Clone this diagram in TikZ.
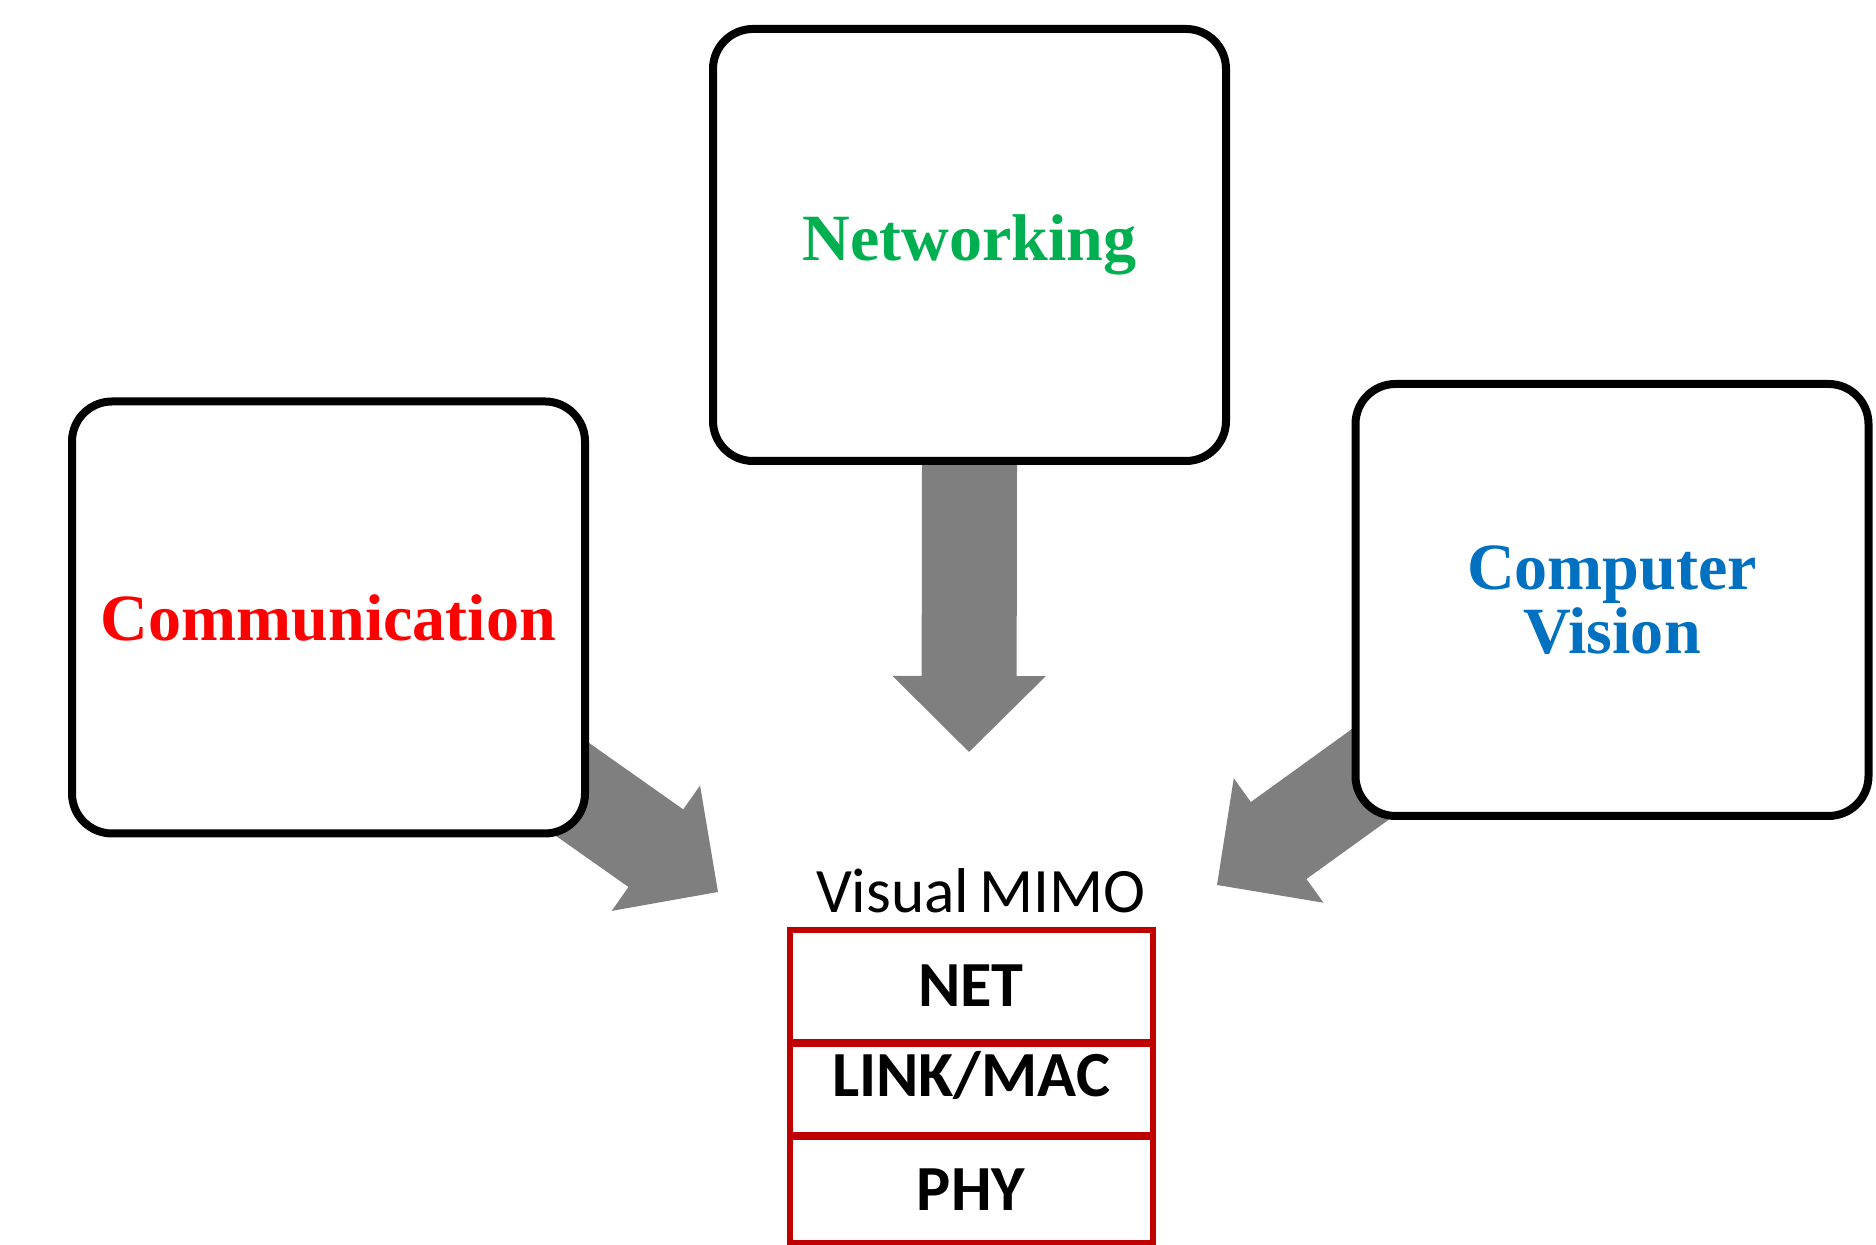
\documentclass[tikz,border=0pt]{standalone}
\usepackage{fontspec}
\usepackage{tikz}
\usetikzlibrary{arrows.meta, positioning, backgrounds}
\newfontfamily\topicfont{Liberation Serif}
\newfontfamily\calibrifont{Carlito}
\definecolor{vmred}{HTML}{FF0000}
\definecolor{vmgreen}{HTML}{00B050}
\definecolor{vmblue}{HTML}{0070C0}
\definecolor{vmdarkred}{HTML}{C00000}
\definecolor{vmgray}{HTML}{7F7F7F}

\begin{document}
\begin{tikzpicture}[
  topic/.style={rectangle, draw=black, line width=0.08cm, rounded corners=0.4cm, fill=white, minimum width=5.13cm, minimum height=4.32cm, align=center, font={\topicfont\bfseries\fontsize{18.8}{16.5}\selectfont}},
  layer/.style={rectangle, draw=vmdarkred, line width=0.06cm, outer sep=0.01cm, minimum width=3.63cm, font={\calibrifont\bfseries\fontsize{18.3}{20}\selectfont}},
  feed/.style={draw=vmgray, line width=0.95cm, -{Triangle[length=0.76cm, width=1.52cm, line width=2pt, fill=vmgray]}},
]
\useasboundingbox (0,0) rectangle (18.76,12.45);
\node[topic, text=vmgreen] (net) at (9.695, 10.00) {Networking};
\node[topic, text=vmred] (comm) at (3.285, 6.275) {Communication};
\node[topic, text=vmblue] (cv) at (16.12, 6.45) {Computer\\Vision};
\node[font={\calibrifont\fontsize{18}{20}\selectfont}, anchor=base] (vmimo) at (9.81, 3.32) {Visual\,MIMO};
\node[layer, minimum height=1.12cm, anchor=north] (netl) at (9.71, 3.16) {NET};
\node[layer, minimum height=0.91cm, anchor=north, inner ysep=0pt, text height=0.48cm, text depth=0.34cm] (link) at (netl.south) {LINK/MAC};
\node[layer, minimum height=1.06cm, anchor=north] (phy) at (link.south) {PHY};
\coordinate (tipN) at (9.69, 4.93);
\coordinate (tipC) at (7.18, 3.53);
\coordinate (tipV) at (12.17, 3.60);
\begin{scope}[on background layer]
\draw[feed] (net.south) -- (tipN);
\draw[feed] (comm.center) -- (tipC);
\draw[feed] (cv.center) -- (tipV);
\end{scope}
\end{tikzpicture}
\end{document}
